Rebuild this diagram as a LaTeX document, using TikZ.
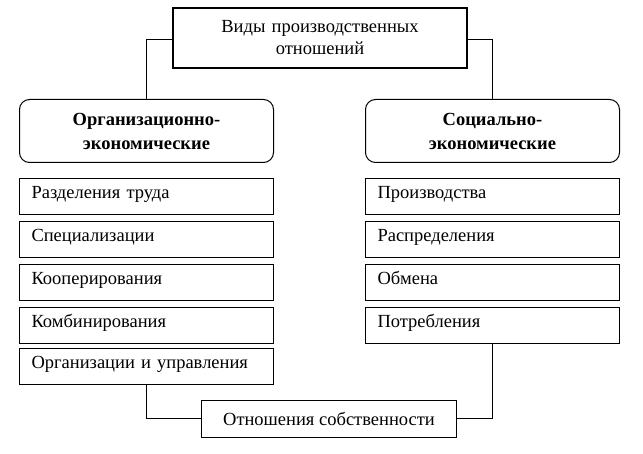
\documentclass[tikz,border=0pt]{standalone}
\usepackage{fontspec}
\setmainfont{Liberation Serif}
\tikzset{
    itembox/.style={draw, rectangle, anchor=north west, minimum height=36pt,
        text width=230pt, inner xsep=12pt, inner ysep=0pt, align=left,
        text height=11pt, text depth=7pt,
        font=\fontsize{18.5}{22}\selectfont},
    groupbox/.style={draw, rectangle, rounded corners=10pt, anchor=north west,
        minimum height=63pt, text width=254pt, inner xsep=0pt, align=center,
        font=\bfseries\fontsize{18.5}{24}\selectfont},
}

\begin{document}
\begin{tikzpicture}[x=1pt,y=-1pt,line width=1pt]
    \useasboundingbox (0,0) rectangle (643,454);
    % title
    \node[draw, line width=2pt, anchor=north west, minimum width=294pt, minimum height=60pt,
        text width=280pt, align=center, font=\fontsize{18.5}{22}\selectfont]
        (kind) at (172,7) {Виды производственных\\отношений};
    % two groups
    \node[groupbox] (org) at (19,99) {Организационно-\\экономические};
    \node[groupbox] (soc) at (365,99) {Социально-\\экономические};
    \draw ([yshift=-2pt]kind.west) -| (org.north);
    \draw ([yshift=-2pt]kind.east) -| (soc.north);
    % left list
    \node[itembox] (org1) at (19,178) {Разделения труда};
    \node[itembox] (org2) at (19,221) {Специализации};
    \node[itembox] (org3) at (19,264) {Кооперирования};
    \node[itembox] (org4) at (19,307) {Комбинирования};
    \node[itembox] (org5) at (19,348) {Организации и управления};
    % right list
    \node[itembox] (soc1) at (365,178) {Производства};
    \node[itembox] (soc2) at (365,221) {Распределения};
    \node[itembox] (soc3) at (365,264) {Обмена};
    \node[itembox] (soc4) at (365,307) {Потребления};
    % property
    \node[draw, anchor=north west, minimum width=255pt, minimum height=37pt,
        font=\fontsize{18.5}{22}\selectfont] (own) at (201,400) {Отношения собственности};
    \draw (org5.south) |- (own.west);
    \draw (soc4.south) |- (own.east);
\end{tikzpicture}
\end{document}
